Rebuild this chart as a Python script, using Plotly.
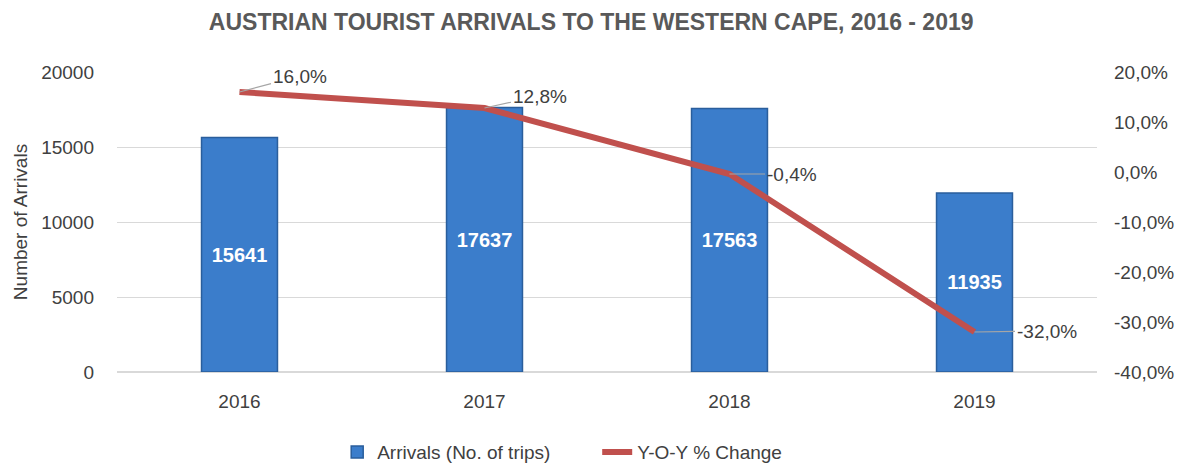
import plotly.graph_objects as go

years = ["2016", "2017", "2018", "2019"]
arrivals = [15641, 17637, 17563, 11935]
yoy_change = [16.0, 12.8, -0.4, -32.0]
yoy_labels = ["16,0%", "12,8%", "-0,4%", "-32,0%"]
left_ticks = [0, 5000, 10000, 15000, 20000]
right_ticks = [-40, -30, -20, -10, 0, 10, 20]
right_tick_labels = ["-40,0%", "-30,0%", "-20,0%", "-10,0%", "0,0%", "10,0%", "20,0%"]

FONT = "Liberation Sans Narrow, Arial Narrow, Liberation Sans, sans-serif"
TXT = "#404040"

fig = go.Figure()
fig.add_trace(go.Bar(
    x=years, y=arrivals, name="Arrivals (No. of trips)",
    marker=dict(color="#3B7DCB", line=dict(color="#2A5E9C", width=1.5)),
    width=0.31,
    text=[str(v) for v in arrivals], textposition="inside", insidetextanchor="middle",
    textfont=dict(color="white", size=20, family=FONT, weight="bold"),
    textangle=0,
))
fig.add_trace(go.Scatter(
    x=years, y=yoy_change, name="Y-O-Y % Change", yaxis="y2",
    mode="lines", line=dict(color="#C0504D", width=6),
))

offsets = [(60, -16), (55, -12), (62, 0), (72, -1)]
for i, (v, lab, (ax, ay)) in enumerate(zip(yoy_change, yoy_labels, offsets)):
    fig.add_annotation(
        x=i, y=v, xref="x", yref="y2", text=lab, showarrow=True,
        arrowhead=0, arrowwidth=1.2, arrowcolor="#A6A6A6", ax=ax, ay=ay,
        xanchor="center", font=dict(size=19, color=TXT, family=FONT),
        standoff=0,
    )

fig.update_layout(
    width=1200, height=465,
    margin=dict(l=109, r=111, t=64, b=101),
    paper_bgcolor="white", plot_bgcolor="white",
    font=dict(family=FONT, color=TXT),
    title=dict(text="AUSTRIAN TOURIST ARRIVALS TO THE WESTERN CAPE, 2016 - 2019",
               x=0.486, xanchor="center", y=0.97, yanchor="middle",
               font=dict(size=23, color="#595959", family=FONT, weight="bold")),
    xaxis=dict(type="category", range=[-0.5, 3.5], tickfont=dict(size=19, color=TXT),
               showgrid=False, showline=False, ticks="", ticklabelstandoff=16),
    yaxis=dict(range=[0, 20000], tickvals=left_ticks, tickformat="d",
               tickfont=dict(size=19, color=TXT),
               gridcolor="#D9D9D9", gridwidth=1, zeroline=True, zerolinecolor="#D9D9D9",
               title=dict(text="Number of Arrivals", font=dict(size=19, color=TXT), standoff=8),
               showline=False, ticks="", ticklabelstandoff=22),
    yaxis2=dict(range=[-40, 20], overlaying="y", side="right", tickvals=right_ticks,
                ticktext=right_tick_labels, tickfont=dict(size=19, color=TXT),
                showgrid=False, zeroline=False, showline=False, ticks="", ticklabelstandoff=16),
    legend=dict(orientation="h", x=0.49, xanchor="center",
                yref="container", y=0.045, yanchor="middle",
                entrywidth=215, entrywidthmode="pixels",
                font=dict(size=19, color=TXT)),
    bargap=0.69,
)

fig.write_html("out.html")
